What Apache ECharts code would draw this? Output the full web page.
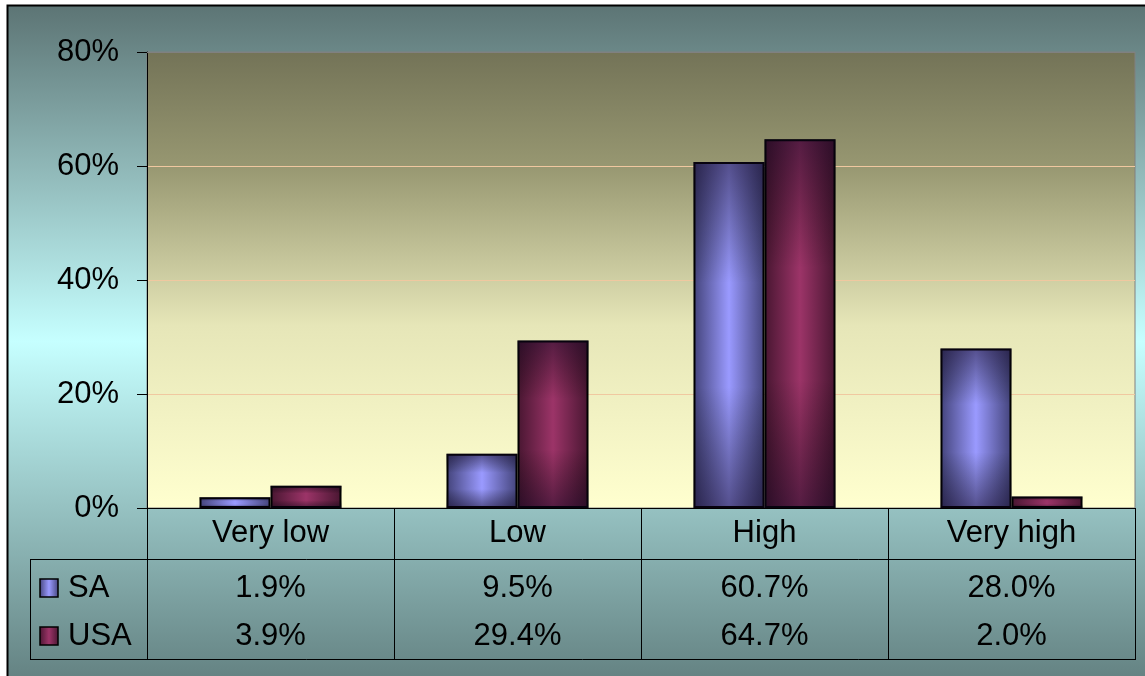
<!DOCTYPE html>
<html>
<head>
<meta charset="utf-8">
<script src="https://cdn.jsdelivr.net/npm/echarts/dist/echarts.min.js"></script>
<style>
  html, body { margin: 0; padding: 0; background: #fff; }
  #main { width: 1145px; height: 676px; }
</style>
</head>
<body>
<div id="main"></div>
<script>
// data
const categories = ['Very low', 'Low', 'High', 'Very high'];
const saValues = [1.9, 9.5, 60.7, 28.0];
const usaValues = [3.9, 29.4, 64.7, 2.0];
const seriesNames = ['SA', 'USA'];

const FONT = '"Liberation Sans", Arial, sans-serif';

const saFill = {
  type: 'linear', x: 0, y: 0, x2: 1, y2: 0,
  colorStops: [
    { offset: 0, color: '#43437a' },
    { offset: 0.5, color: '#9a9aff' },
    { offset: 1, color: '#43437a' }
  ]
};
const usaFill = {
  type: 'linear', x: 0, y: 0, x2: 1, y2: 0,
  colorStops: [
    { offset: 0, color: '#481631' },
    { offset: 0.5, color: '#9c3468' },
    { offset: 1, color: '#481631' }
  ]
};
const shade = {
  type: 'linear', x: 0, y: 0, x2: 0, y2: 1,
  colorStops: [
    { offset: 0, color: 'rgba(15,5,30,0.5)' },
    { offset: 0.35, color: 'rgba(0,0,0,0)' },
    { offset: 0.65, color: 'rgba(0,0,0,0)' },
    { offset: 1, color: 'rgba(15,5,30,0.5)' }
  ]
};

let myChart = echarts.init(document.getElementById('main'));

const barCommon = {
  type: 'bar',
  barGap: 0,
  barCategoryGap: '42.5%'
};

myChart.setOption({
  animation: false,
  textStyle: { fontFamily: FONT },
  grid: {
    left: 147, right: 10, top: 52, bottom: 168,
    show: true,
    borderColor: '#808080',
    borderWidth: 1,
    backgroundColor: {
      type: 'linear', x: 0, y: 0, x2: 0, y2: 1,
      colorStops: [
        { offset: 0, color: '#737357' },
        { offset: 0.25, color: '#979771' },
        { offset: 0.6, color: '#e6e6b8' },
        { offset: 1, color: '#ffffcf' }
      ]
    }
  },
  xAxis: [
    {
      type: 'category',
      data: categories,
      axisLine: { lineStyle: { color: '#000', width: 1 } },
      axisTick: { show: false },
      axisLabel: {
        margin: 0, lineHeight: 51, fontSize: 31, color: '#000',
        fontFamily: FONT, verticalAlign: 'top'
      }
    },
    {
      type: 'category',
      data: categories,
      show: false
    }
  ],
  yAxis: {
    type: 'value',
    min: 0, max: 80, interval: 20,
    axisLine: { show: true, lineStyle: { color: '#000', width: 1 } },
    axisTick: { show: true, length: 10, lineStyle: { color: '#000' } },
    axisLabel: { formatter: '{value}%', fontSize: 31, color: '#000', margin: 28, fontFamily: FONT },
    splitLine: { lineStyle: { color: '#f0c8a0', width: 1 } }
  },
  series: [
    Object.assign({}, barCommon, {
      name: seriesNames[0], data: saValues, xAxisIndex: 0,
      itemStyle: { color: saFill, borderColor: '#000', borderWidth: 2 }
    }),
    Object.assign({}, barCommon, {
      name: seriesNames[1], data: usaValues, xAxisIndex: 0,
      itemStyle: { color: usaFill, borderColor: '#000', borderWidth: 2 }
    }),
    // vertical shading on top of the bars
    Object.assign({}, barCommon, {
      name: 'shadeSA', data: saValues, xAxisIndex: 1, silent: true,
      itemStyle: { color: shade }
    }),
    Object.assign({}, barCommon, {
      name: 'shadeUSA', data: usaValues, xAxisIndex: 1, silent: true,
      itemStyle: { color: shade }
    })
  ]
});

// data table under the axis
const rowY = [588, 636];
const rowData = [saValues, usaValues];
const keyFills = [saFill, usaFill];
const lineStyle = { stroke: '#000', lineWidth: 1 };
const graphics = [
  {
    type: 'rect', z: -100, silent: true,
    shape: { x: 7.5, y: 5.5, width: 1200, height: 700 },
    style: {
      stroke: '#000', lineWidth: 2,
      fill: {
        type: 'linear', x: 0, y: 0, x2: 0, y2: 1,
        colorStops: [
          { offset: 0, color: '#5c7474' },
          { offset: 0.48, color: '#c6ffff' },
          { offset: 1, color: '#5c7878' }
        ]
      }
    }
  },
  // grey top edge of the plot area
  { type: 'line', z: 50, shape: { x1: 147, y1: 52.5, x2: 1135, y2: 52.5 }, style: { stroke: '#808080', lineWidth: 1 } },
  { type: 'line', z: 50, shape: { x1: 30, y1: 559.5, x2: 1135, y2: 559.5 }, style: lineStyle },
  { type: 'line', z: 50, shape: { x1: 30, y1: 659.5, x2: 1135, y2: 659.5 }, style: lineStyle },
  { type: 'line', z: 50, shape: { x1: 30.5, y1: 559, x2: 30.5, y2: 660 }, style: lineStyle }
];

// column separators at the category boundaries
const c0 = myChart.convertToPixel({ xAxisIndex: 0 }, 0);
const c1 = myChart.convertToPixel({ xAxisIndex: 0 }, 1);
const half = (c1 - c0) / 2;
for (let i = 0; i <= categories.length; i++) {
  const bx = Math.round(c0 - half + i * 2 * half) + 0.5;
  graphics.push({ type: 'line', z: 50, shape: { x1: bx, y1: 508, x2: bx, y2: 660 }, style: lineStyle });
}

seriesNames.forEach(function (name, r) {
  graphics.push({
    type: 'rect', z: 50,
    shape: { x: 40, y: rowY[r] - 9, width: 18, height: 18 },
    style: { fill: keyFills[r], stroke: '#000', lineWidth: 1.5 }
  });
  graphics.push({
    type: 'text', z: 50, x: 68, y: rowY[r],
    style: { text: name, font: '31px ' + FONT, fill: '#000', align: 'left', verticalAlign: 'middle' }
  });
  rowData[r].forEach(function (v, i) {
    const px = myChart.convertToPixel({ xAxisIndex: 0 }, i);
    graphics.push({
      type: 'text', z: 50, x: px, y: rowY[r],
      style: { text: v.toFixed(1) + '%', font: '31px ' + FONT, fill: '#000', align: 'center', verticalAlign: 'middle' }
    });
  });
});

myChart.setOption({ graphic: graphics });
</script>
</body>
</html>
